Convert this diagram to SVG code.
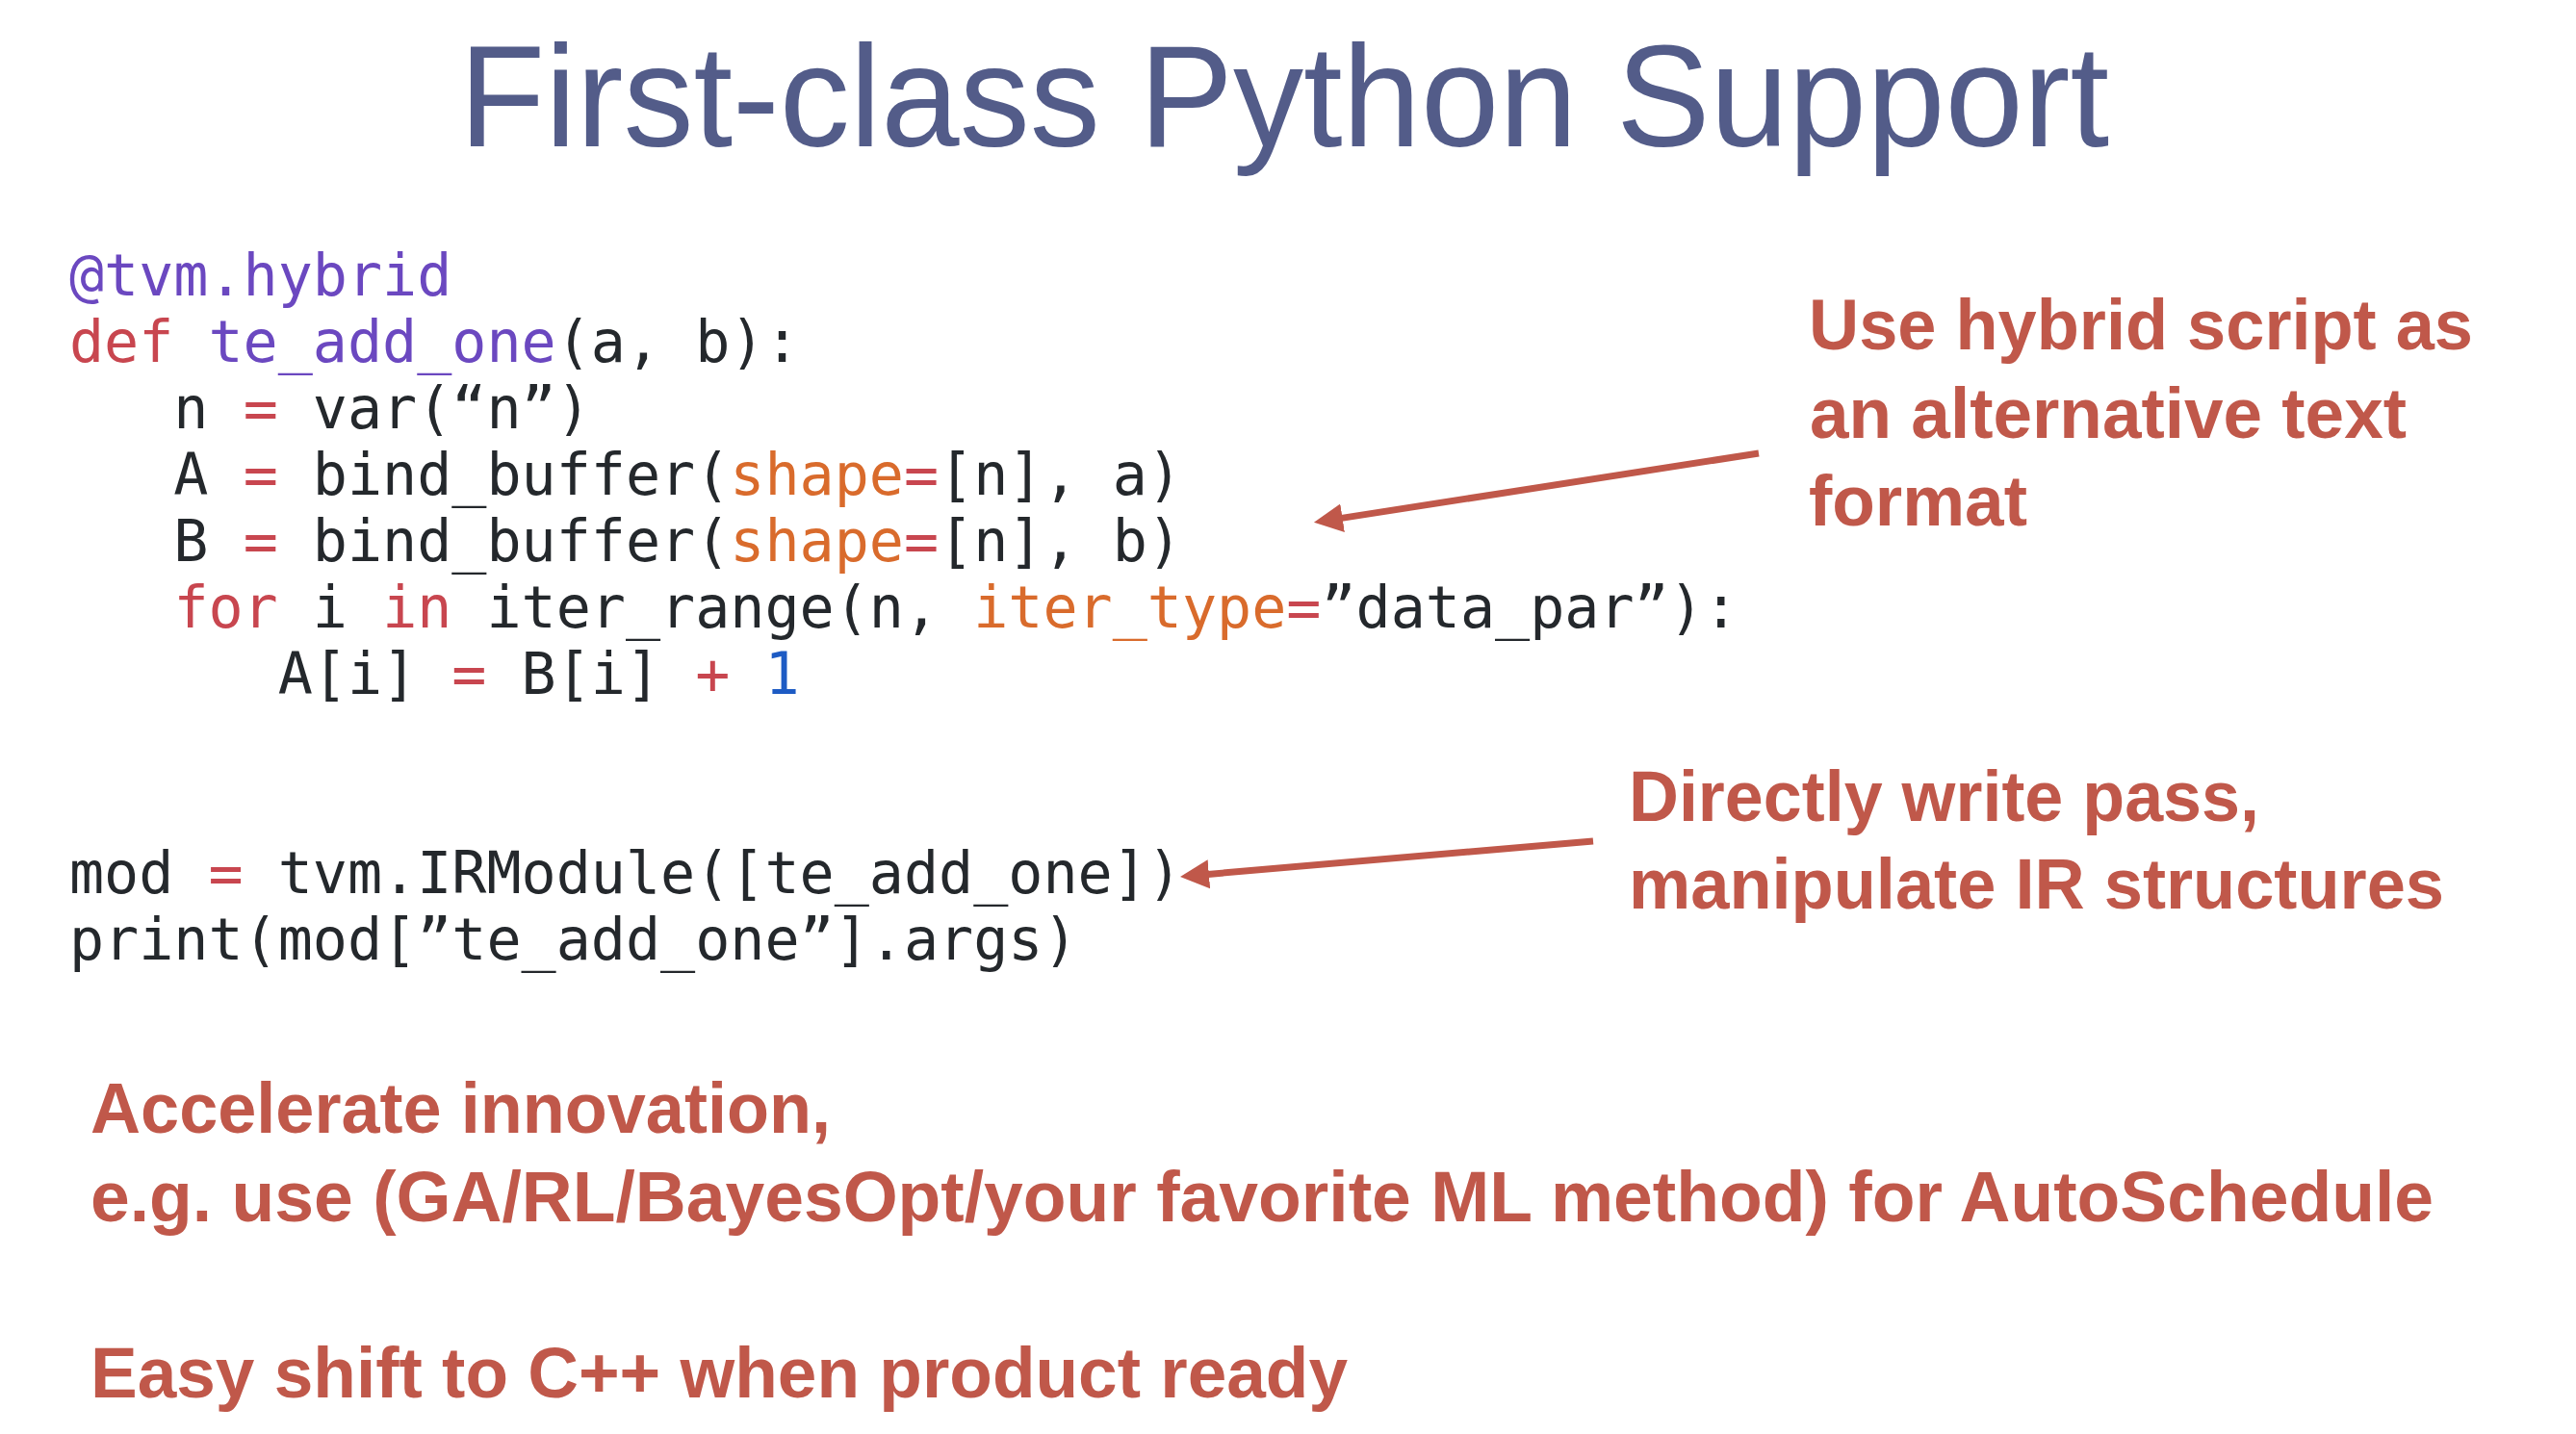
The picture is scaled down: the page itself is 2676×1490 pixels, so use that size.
<svg xmlns="http://www.w3.org/2000/svg" width="2676" height="1490" viewBox="0 0 2676 1490" xml:space="preserve">
<style>
.title{font-family:"Liberation Sans",Arial,sans-serif;font-size:151px;fill:#535c89}
.code{font-family:"DejaVu Sans Mono","Liberation Mono",monospace;font-size:60px;fill:#24282c;white-space:pre}
.pu{fill:#6b48c0}
.rd{fill:#c8464f}
.or{fill:#d96b2c}
.bl{fill:#1d5bc4}
.note{font-family:"Liberation Sans",Arial,sans-serif;font-size:74px;font-weight:bold;fill:#c0584a}
.conn{stroke:#c0584a;stroke-width:7;fill:none}
</style>
<defs>
<marker id="ah" markerUnits="userSpaceOnUse" viewBox="0 -16 32 32" markerWidth="32" markerHeight="32" refX="1" refY="0" orient="auto">
<path d="M0,-15 L30,0 L0,15 Z" fill="#c0584a"/>
</marker>
</defs>
<rect width="2676" height="1490" fill="#ffffff"/>
<g id="title">
<text class="title" x="477" y="152" textLength="1714" lengthAdjust="spacingAndGlyphs">First-class Python Support</text>
</g>
<g id="code-hybrid">
<text class="code" x="72" y="307"><tspan class="pu">@tvm.hybrid</tspan></text>
<text class="code" x="72" y="376"><tspan class="rd">def</tspan> <tspan class="pu">te_add_one</tspan>(a, b):</text>
<text class="code" x="72" y="445">   n <tspan class="rd">=</tspan> var(“n”)</text>
<text class="code" x="72" y="514">   A <tspan class="rd">=</tspan> bind_buffer(<tspan class="or">shape</tspan><tspan class="rd">=</tspan>[n], a)</text>
<text class="code" x="72" y="583">   B <tspan class="rd">=</tspan> bind_buffer(<tspan class="or">shape</tspan><tspan class="rd">=</tspan>[n], b)</text>
<text class="code" x="72" y="652">   <tspan class="rd">for</tspan> i <tspan class="rd">in</tspan> iter_range(n, <tspan class="or">iter_type</tspan><tspan class="rd">=</tspan>”data_par”):</text>
<text class="code" x="72" y="721">      A[i] <tspan class="rd">=</tspan> B[i] <tspan class="rd">+</tspan> <tspan class="bl">1</tspan></text>
</g>
<g id="code-module">
<text class="code" x="72" y="928">mod <tspan class="rd">=</tspan> tvm.IRModule([te_add_one])</text>
<text class="code" x="72" y="997">print(mod[”te_add_one”].args)</text>
</g>
<g id="note-hybrid">
<text class="note" x="1879" y="363" textLength="690" lengthAdjust="spacingAndGlyphs">Use hybrid script as</text>
<text class="note" x="1880" y="455" textLength="620" lengthAdjust="spacingAndGlyphs">an alternative text</text>
<text class="note" x="1879" y="546" textLength="227" lengthAdjust="spacingAndGlyphs">format</text>
</g>
<g id="note-pass">
<text class="note" x="1692" y="853" textLength="655" lengthAdjust="spacingAndGlyphs">Directly write pass,</text>
<text class="note" x="1692" y="944" textLength="847" lengthAdjust="spacingAndGlyphs">manipulate IR structures</text>
</g>
<g id="note-accelerate">
<text class="note" x="94" y="1177" textLength="769" lengthAdjust="spacingAndGlyphs">Accelerate innovation,</text>
<text class="note" x="94" y="1269" textLength="2434" lengthAdjust="spacingAndGlyphs">e.g. use (GA/RL/BayesOpt/your favorite ML method) for AutoSchedule</text>
</g>
<g id="note-cpp">
<text class="note" x="94" y="1452" textLength="1306" lengthAdjust="spacingAndGlyphs">Easy shift to C++ when product ready</text>
</g>
<g id="connectors">
<line class="conn" x1="1827" y1="471" x2="1393.6" y2="538.4" marker-end="url(#ah)"/>
<line class="conn" x1="1655" y1="874" x2="1254.9" y2="908.4" marker-end="url(#ah)"/>
</g>
</svg>
